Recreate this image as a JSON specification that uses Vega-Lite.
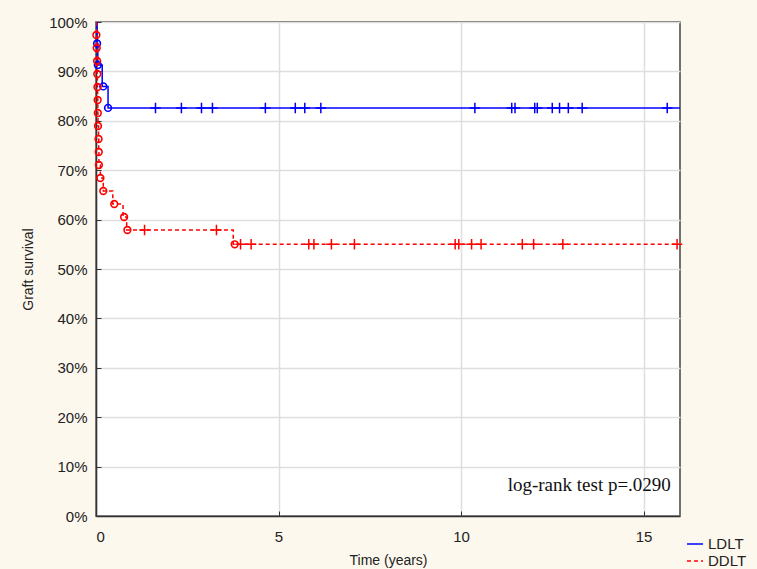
{
  "$schema": "https://vega.github.io/schema/vega-lite/v6.json",
  "width": 584,
  "height": 494,
  "autosize": "none",
  "padding": {"left": 96, "top": 22, "right": 77, "bottom": 53},
  "background": "#fdf8ed",
  "config": {
    "view": {"fill": "white", "stroke": "#444", "strokeWidth": 1.5},
    "font": "Liberation Sans",
    "axis": {"labelFont": "Liberation Sans", "titleFont": "Liberation Sans", "labelColor": "#222", "titleColor": "#222", "labelFontSize": 15, "titleFontSize": 14, "titleFontWeight": "normal", "gridColor": "#dedede", "gridWidth": 1.5, "domainColor": "#333", "domainWidth": 1.5, "tickColor": "#333"}
  },
  "datasets": {
    "steps": [
      {"group": "LDLT", "t": 0, "s": 1.0},
      {"group": "LDLT", "t": 0.03, "s": 0.9565},
      {"group": "LDLT", "t": 0.05, "s": 0.913},
      {"group": "LDLT", "t": 0.17, "s": 0.8696},
      {"group": "LDLT", "t": 0.33, "s": 0.8261},
      {"group": "LDLT", "t": 16, "s": 0.8261},
      {"group": "DDLT", "t": 0, "s": 1.0},
      {"group": "DDLT", "t": 0.01, "s": 0.9737},
      {"group": "DDLT", "t": 0.02, "s": 0.9474},
      {"group": "DDLT", "t": 0.03, "s": 0.9211},
      {"group": "DDLT", "t": 0.035, "s": 0.8947},
      {"group": "DDLT", "t": 0.04, "s": 0.8684},
      {"group": "DDLT", "t": 0.045, "s": 0.8421},
      {"group": "DDLT", "t": 0.05, "s": 0.8158},
      {"group": "DDLT", "t": 0.055, "s": 0.7895},
      {"group": "DDLT", "t": 0.07, "s": 0.7632},
      {"group": "DDLT", "t": 0.075, "s": 0.7368},
      {"group": "DDLT", "t": 0.08, "s": 0.7105},
      {"group": "DDLT", "t": 0.12, "s": 0.6842},
      {"group": "DDLT", "t": 0.2, "s": 0.6579},
      {"group": "DDLT", "t": 0.46, "s": 0.6316},
      {"group": "DDLT", "t": 0.74, "s": 0.6053},
      {"group": "DDLT", "t": 0.84, "s": 0.5789},
      {"group": "DDLT", "t": 3.76, "s": 0.55},
      {"group": "DDLT", "t": 16, "s": 0.55}
    ],
    "events": [
      {"group": "LDLT", "t": 0.03, "s": 0.9565},
      {"group": "LDLT", "t": 0.05, "s": 0.913},
      {"group": "LDLT", "t": 0.2, "s": 0.8696},
      {"group": "LDLT", "t": 0.33, "s": 0.8261},
      {"group": "DDLT", "t": 0.01, "s": 0.9737},
      {"group": "DDLT", "t": 0.02, "s": 0.9474},
      {"group": "DDLT", "t": 0.03, "s": 0.9211},
      {"group": "DDLT", "t": 0.035, "s": 0.8947},
      {"group": "DDLT", "t": 0.04, "s": 0.8684},
      {"group": "DDLT", "t": 0.045, "s": 0.8421},
      {"group": "DDLT", "t": 0.05, "s": 0.8158},
      {"group": "DDLT", "t": 0.055, "s": 0.7895},
      {"group": "DDLT", "t": 0.07, "s": 0.7632},
      {"group": "DDLT", "t": 0.075, "s": 0.7368},
      {"group": "DDLT", "t": 0.08, "s": 0.7105},
      {"group": "DDLT", "t": 0.12, "s": 0.6842},
      {"group": "DDLT", "t": 0.2, "s": 0.6579},
      {"group": "DDLT", "t": 0.5, "s": 0.6316},
      {"group": "DDLT", "t": 0.77, "s": 0.6053},
      {"group": "DDLT", "t": 0.86, "s": 0.5789},
      {"group": "DDLT", "t": 3.8, "s": 0.55}
    ],
    "censored": [
      {"group": "LDLT", "t": 1.63, "s": 0.8261},
      {"group": "LDLT", "t": 2.34, "s": 0.8261},
      {"group": "LDLT", "t": 2.89, "s": 0.8261},
      {"group": "LDLT", "t": 3.19, "s": 0.8261},
      {"group": "LDLT", "t": 4.64, "s": 0.8261},
      {"group": "LDLT", "t": 5.46, "s": 0.8261},
      {"group": "LDLT", "t": 5.72, "s": 0.8261},
      {"group": "LDLT", "t": 6.16, "s": 0.8261},
      {"group": "LDLT", "t": 10.38, "s": 0.8261},
      {"group": "LDLT", "t": 11.39, "s": 0.8261},
      {"group": "LDLT", "t": 11.48, "s": 0.8261},
      {"group": "LDLT", "t": 12.02, "s": 0.8261},
      {"group": "LDLT", "t": 12.09, "s": 0.8261},
      {"group": "LDLT", "t": 12.5, "s": 0.8261},
      {"group": "LDLT", "t": 12.7, "s": 0.8261},
      {"group": "LDLT", "t": 12.94, "s": 0.8261},
      {"group": "LDLT", "t": 13.32, "s": 0.8261},
      {"group": "LDLT", "t": 15.65, "s": 0.8261},
      {"group": "DDLT", "t": 1.33, "s": 0.5789},
      {"group": "DDLT", "t": 3.3, "s": 0.5789},
      {"group": "DDLT", "t": 3.96, "s": 0.55},
      {"group": "DDLT", "t": 4.25, "s": 0.55},
      {"group": "DDLT", "t": 5.83, "s": 0.55},
      {"group": "DDLT", "t": 5.97, "s": 0.55},
      {"group": "DDLT", "t": 6.45, "s": 0.55},
      {"group": "DDLT", "t": 7.08, "s": 0.55},
      {"group": "DDLT", "t": 9.84, "s": 0.55},
      {"group": "DDLT", "t": 9.94, "s": 0.55},
      {"group": "DDLT", "t": 10.29, "s": 0.55},
      {"group": "DDLT", "t": 10.55, "s": 0.55},
      {"group": "DDLT", "t": 11.68, "s": 0.55},
      {"group": "DDLT", "t": 11.99, "s": 0.55},
      {"group": "DDLT", "t": 12.79, "s": 0.55},
      {"group": "DDLT", "t": 15.92, "s": 0.55}
    ],
    "note": [{"t": 15.75, "s": 0.063, "label": "log-rank test p=.0290"}]
  },
  "layer": [
    {
      "data": {"name": "steps"},
      "mark": {"type": "line", "interpolate": "step-after", "strokeWidth": 1.5, "clip": true},
      "encoding": {
        "x": {"field": "t", "type": "quantitative", "scale": {"domain": [0, 16], "nice": false, "zero": false},
              "axis": {"values": [0, 5, 10, 15], "title": "Time (years)", "tickSize": -5, "labelPadding": 18, "titlePadding": 9, "grid": true}},
        "y": {"field": "s", "type": "quantitative", "scale": {"domain": [0, 1], "nice": false},
              "axis": {"values": [0, 0.1, 0.2, 0.3, 0.4, 0.5, 0.6, 0.7, 0.8, 0.9, 1.0], "format": ".0%", "title": "Graft survival", "tickSize": -5, "labelPadding": 14, "titlePadding": 13, "grid": true}},
        "color": {"field": "group", "type": "nominal", "scale": {"domain": ["LDLT", "DDLT"], "range": ["#0000ff", "#ff0000"]},
                  "legend": {"orient": "none", "legendX": 590, "legendY": 513, "title": null, "symbolType": "stroke", "symbolStrokeWidth": 1.5, "symbolSize": 256, "labelFont": "Liberation Sans", "labelFontSize": 15, "labelColor": "#222", "rowPadding": 0, "padding": 0}},
        "strokeDash": {"field": "group", "type": "nominal", "scale": {"domain": ["LDLT", "DDLT"], "range": [[1, 0], [4, 3]]},
                       "legend": {"orient": "none", "legendX": 590, "legendY": 513, "title": null, "symbolType": "stroke", "symbolStrokeWidth": 1.5, "symbolSize": 256, "labelFont": "Liberation Sans", "labelFontSize": 15, "labelColor": "#222", "rowPadding": 0, "padding": 0}}
      }
    },
    {
      "data": {"name": "censored"},
      "mark": {"type": "point", "shape": "M0,-1V1M-1,0H1", "filled": false, "size": 110, "strokeWidth": 1.5, "opacity": 1},
      "encoding": {
        "x": {"field": "t", "type": "quantitative"},
        "y": {"field": "s", "type": "quantitative"},
        "color": {"field": "group", "type": "nominal", "legend": null}
      }
    },
    {
      "data": {"name": "events"},
      "mark": {"type": "point", "shape": "circle", "filled": false, "size": 45, "strokeWidth": 1.6, "opacity": 1},
      "encoding": {
        "x": {"field": "t", "type": "quantitative"},
        "y": {"field": "s", "type": "quantitative"},
        "color": {"field": "group", "type": "nominal", "legend": null}
      }
    },
    {
      "data": {"name": "note"},
      "mark": {"type": "text", "align": "right", "baseline": "middle", "font": "Liberation Serif", "fontSize": 19, "color": "#111"},
      "encoding": {
        "x": {"field": "t", "type": "quantitative"},
        "y": {"field": "s", "type": "quantitative"},
        "text": {"field": "label"}
      }
    }
  ]
}
